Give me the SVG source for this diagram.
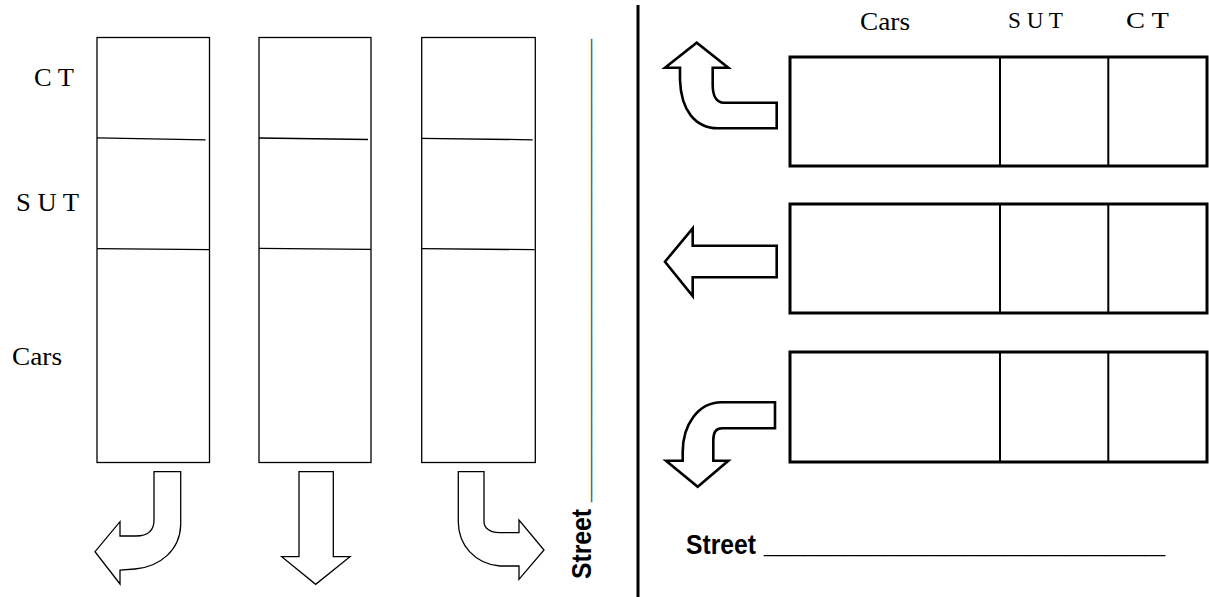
<svg xmlns="http://www.w3.org/2000/svg" width="1209" height="597" viewBox="0 0 1209 597">
<style>
.col{fill:none;stroke:#000;stroke-width:1.3}
.div{fill:none;stroke:#000;stroke-width:1.3}
.arr{fill:#fff;stroke:#000;stroke-width:1.3;stroke-linejoin:miter}
.arrb{fill:#fff;stroke:#000;stroke-width:2.6;stroke-linejoin:miter}
.box{fill:none;stroke:#000;stroke-width:3}
.bdiv{fill:none;stroke:#000;stroke-width:2}
.lbl{font-family:"Liberation Serif","Times New Roman",serif;font-size:25px;fill:#000}
.lbs{font-family:"Liberation Serif","Times New Roman",serif;font-size:23px;fill:#000}
.st{font-family:"Liberation Sans",Arial,sans-serif;font-weight:bold;font-size:27px;fill:#000}
</style>
<rect width="1209" height="597" fill="#fff"/>

<g id="left-labels">
<text class="lbl" x="34" y="86" textLength="40" lengthAdjust="spacingAndGlyphs">C T</text>
<text class="lbl" x="16" y="211" textLength="63" lengthAdjust="spacingAndGlyphs">S U T</text>
<text class="lbl" x="12" y="365" textLength="50" lengthAdjust="spacingAndGlyphs">Cars</text>
</g>

<g id="column1">
<rect class="col" x="97" y="37.5" width="112.5" height="425"/>
<path class="div" d="M97,137.8 L205.5,139.8 M97,248.7 L209.5,249.7"/>
</g>
<g id="column2">
<rect class="col" x="259" y="37.5" width="112" height="425"/>
<path class="div" d="M259,138 L368,139.5 M259,248.3 L371,249.3"/>
</g>
<g id="column3">
<rect class="col" x="421.7" y="37.5" width="113.6" height="425"/>
<path class="div" d="M421.7,138.3 L532.7,139.8 M421.7,248.7 L534.5,249.7"/>
</g>

<g id="arrow-left-turn">
<path class="arr" d="M154,471.7 L180.7,471.7 L180.7,525 C180,550 160,567 135,569 L120,570 L120,584 L95,551.7 L120,521.7 L120,536 L136,536 C148,536 154,530 154,520 Z"/>
</g>
<g id="arrow-straight-down">
<path class="arr" d="M299,471.7 L333.3,471.7 L333.3,556.7 L350,556.7 L315.7,584.3 L281.7,556.7 L299,556.7 Z"/>
</g>
<g id="arrow-right-turn">
<path class="arr" d="M458.3,471.7 L484,471.7 L484,521.7 C484,528 490,532.7 499.3,532.7 L519,532.7 L519,520 L544,550 L519,579.3 L519,566 L500,566 C475,564 458.3,545 458.3,521.7 Z"/>
</g>

<g id="left-street">
<text class="st" transform="translate(590.5,579) rotate(-90)" x="0" y="0" textLength="70" lengthAdjust="spacingAndGlyphs">Street</text>
<text transform="translate(588,579) rotate(-90)" x="77" y="0" font-family="Liberation Sans, Arial, sans-serif" font-size="20" fill="#555" textLength="463" lengthAdjust="spacingAndGlyphs">__________________________________________</text>
</g>

<line id="divider" x1="638" y1="5" x2="638" y2="597" stroke="#000" stroke-width="3"/>

<g id="right-labels">
<text class="lbl" x="860" y="30" textLength="50" lengthAdjust="spacingAndGlyphs">Cars</text>
<text class="lbs" x="1008" y="28" textLength="55" lengthAdjust="spacingAndGlyphs">S U T</text>
<text class="lbs" x="1126" y="28" textLength="43" lengthAdjust="spacingAndGlyphs">C T</text>
</g>

<g id="row1">
<rect class="box" x="790" y="57" width="417" height="109"/>
<path class="bdiv" d="M1000,57 V166 M1108.3,57 V166"/>
</g>
<g id="row2">
<rect class="box" x="790" y="204" width="417" height="109"/>
<path class="bdiv" d="M1000,204 V313 M1108.3,204 V313"/>
</g>
<g id="row3">
<rect class="box" x="790" y="352" width="417" height="110"/>
<path class="bdiv" d="M1000,352 V462 M1108.3,352 V462"/>
</g>

<g id="arrow-up-turn">
<path class="arrb" d="M776.7,102.7 L724,102.7 C716,102.7 712.7,95 712.7,85 L712.7,67.7 L728.3,67.7 L696.7,42.7 L665,67.7 L680,67.7 L680,80 C681,110 695,128.3 718,128.3 L776.7,128.3 Z"/>
</g>
<g id="arrow-left">
<path class="arrb" d="M776.7,245.7 L692.7,245.7 L692.7,228.3 L665,261.7 L692.7,296 L692.7,277.3 L776.7,277.3 Z"/>
</g>
<g id="arrow-down-turn">
<path class="arrb" d="M775,402.3 L721.7,402.3 C698,402.3 682.7,425 682.7,452 L682.7,460.7 L666,460.7 L697.7,486.7 L728.3,460.7 L713.3,460.7 L713.3,440 C713.3,432 716,428.3 722,428.3 L775,428.3 Z"/>
</g>

<g id="right-street">
<text class="st" x="686" y="554" textLength="70" lengthAdjust="spacingAndGlyphs">Street</text>
<text x="764" y="552" font-family="Liberation Sans, Arial, sans-serif" font-weight="bold" font-size="34" fill="#000" textLength="401" lengthAdjust="spacingAndGlyphs">____________________</text>
</g>
</svg>
